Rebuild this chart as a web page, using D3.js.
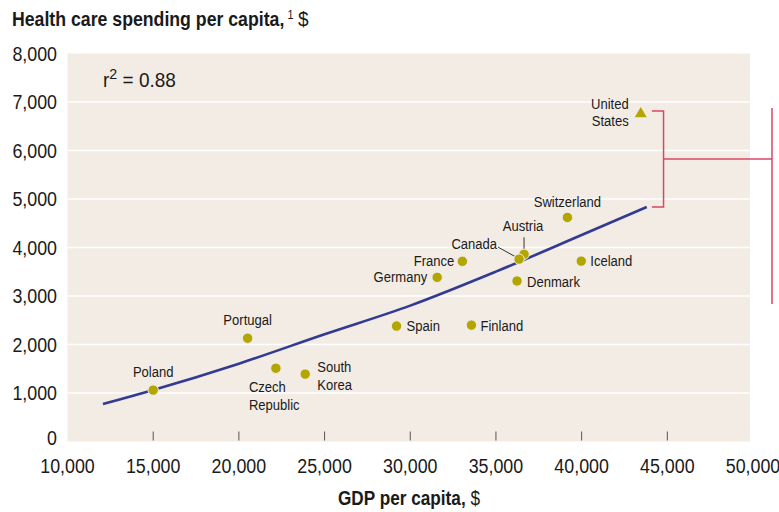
<!DOCTYPE html>
<html><head><meta charset="utf-8">
<script src="https://cdn.jsdelivr.net/npm/d3@7"></script>
<style>
body{margin:0;background:#fff}
text{font-family:"Liberation Sans",Arial,sans-serif;fill:#1a1a1a}
</style>
</head><body>
<svg id="c" width="779" height="512"></svg>
<script>
// ---- data ----
const countries = ["Poland","Portugal","Czech Republic","South Korea","Spain","Finland","Germany","France","Canada","Austria","Denmark","Switzerland","Iceland","United States"];
const gdpPerCapita = [15000,20510,22160,23870,29200,33570,31570,33040,36350,36640,36230,39170,39980,43450];
const healthPerCapita = [1060,2130,1510,1390,2380,2400,3385,3715,3760,3860,3310,4620,3720,6775];
const trendGdp = [12070,15000,20000,25000,30000,35000,40000,43800];
const trendHealth = [773,1062,1605,2211,2801,3502,4257,4835];
const xTicks = [10000,15000,20000,25000,30000,35000,40000,45000,50000];
const yTicks = [0,1000,2000,3000,4000,5000,6000,7000,8000];
const rSquared = "0.88";

// ---- label layout (offsets from point, px) ----
const labelLayout = {
  "Poland":        {anchor:"middle", dx:0,   dy:-13, lines:["Poland"]},
  "Portugal":      {anchor:"middle", dx:0,   dy:-13, lines:["Portugal"]},
  "Czech Republic":{anchor:"start",  dx:-27, dy:24,  lines:["Czech","Republic"]},
  "South Korea":   {anchor:"start",  dx:12,  dy:-2,  lines:["South","Korea"]},
  "Spain":         {anchor:"start",  dx:10,  dy:5,   lines:["Spain"]},
  "Finland":       {anchor:"start",  dx:9,   dy:6,   lines:["Finland"]},
  "Germany":       {anchor:"end",    dx:-10, dy:5,   lines:["Germany"]},
  "France":        {anchor:"end",    dx:-8,  dy:5,   lines:["France"]},
  "Canada":        {anchor:"end",    dx:-22, dy:-10, lines:["Canada"]},
  "Austria":       {anchor:"middle", dx:-1,  dy:-23, lines:["Austria"]},
  "Denmark":       {anchor:"start",  dx:10,  dy:6,   lines:["Denmark"]},
  "Switzerland":   {anchor:"middle", dx:0,   dy:-10, lines:["Switzerland"]},
  "Iceland":       {anchor:"start",  dx:9,   dy:5,   lines:["Iceland"]},
  "United States": {anchor:"end",    dx:-12, dy:-4,  lines:["United","States"]}
};

const svg = d3.select("#c");
const x = d3.scaleLinear().domain([10000,50000]).range([67.5,753]);
const y = d3.scaleLinear().domain([0,8000]).range([441.5,53.5]);
const bg = "#f2ece5";
const dotColor = "#b3a600";
const SX = 0.87; // horizontal condensing to mimic a condensed face

function addText(parent, px, py, size, anchor, sx) {
  return parent.append("text")
    .attr("transform", `translate(${px},${py}) scale(${sx||SX},1)`)
    .attr("text-anchor", anchor || "start")
    .style("font-size", size + "px");
}

// plot background
svg.append("rect").attr("x",x(10000)).attr("y",y(8000))
  .attr("width",750-x(10000)).attr("height",y(0)-y(8000)).attr("fill",bg);

// gridlines
svg.append("g").selectAll("line").data(yTicks.filter(d=>d>0&&d<8000)).join("line")
  .attr("x1",x(10000)).attr("x2",750).attr("y1",d=>y(d)).attr("y2",d=>y(d))
  .attr("stroke","#fff").attr("stroke-width",1.6);

// x ticks (inside, at bottom)
svg.append("g").selectAll("line").data(xTicks.slice(1,-1)).join("line")
  .attr("x1",d=>x(d)).attr("x2",d=>x(d)).attr("y1",y(0)-10).attr("y2",y(0)-1)
  .attr("stroke","#555").attr("stroke-width",1);

// axis labels
const fmt = d3.format(",");
const gx = svg.append("g");
xTicks.forEach(d=>addText(gx, x(d), 473, 20.5, "middle").text(fmt(d)));
const gy = svg.append("g");
yTicks.forEach(d=>addText(gy, 57, y(d) + (d===0?3:7), 20.5, "end").text(fmt(d)));

// titles
addText(svg, 12, 26, 20, "start", 0.885).style("font-weight","bold").text("Health care spending per capita,");
addText(svg, 287.5, 19, 12, "start", 0.9).text("1");
addText(svg, 298, 26, 20, "start", 0.95).text("$");

const t2 = addText(svg, 409, 505, 20, "middle", 0.86);
t2.append("tspan").style("font-weight","bold").text("GDP per capita,");
t2.append("tspan").text(" $");

// r squared
const r2 = addText(svg, 103, 87, 20, "start", 0.95);
r2.append("tspan").text("r");
r2.append("tspan").style("font-size","15px").attr("dy",-8).text("2");
r2.append("tspan").attr("dy",8).text(" = " + rSquared);

// trend line
const trend = trendGdp.map((g,i)=>[g,trendHealth[i]]);
svg.append("path").datum(trend)
  .attr("d",d3.line().x(d=>x(d[0])).y(d=>y(d[1])).curve(d3.curveMonotoneX))
  .attr("fill","none").attr("stroke","#323a92").attr("stroke-width",2.6);

// bracket (difference between US and trend end)
const usIdx = countries.indexOf("United States");
const bx0 = x(44100), bx1 = x(44780);
const yTop = y(healthPerCapita[usIdx]) - 2, yBot = y(trendHealth[trendHealth.length-1]);
const red = "#d94764";
const br = svg.append("g").attr("stroke",red).attr("stroke-width",1.5).attr("fill","none");
br.append("path").attr("d",`M${bx0},${yTop}H${bx1}V${yBot}H${bx0}`);
br.append("line").attr("x1",bx1).attr("x2",772).attr("y1",(yTop+yBot)/2).attr("y2",(yTop+yBot)/2);
br.append("line").attr("x1",772).attr("x2",772).attr("y1",108).attr("y2",304);

// leader lines
const ai = countries.indexOf("Austria"), ci = countries.indexOf("Canada");
svg.append("line").attr("x1",x(gdpPerCapita[ai])).attr("x2",x(gdpPerCapita[ai]))
  .attr("y1",y(healthPerCapita[ai])-17).attr("y2",y(healthPerCapita[ai])-4)
  .attr("stroke","#333").attr("stroke-width",1);
svg.append("line").attr("x1",x(gdpPerCapita[ci])-21).attr("x2",x(gdpPerCapita[ci])-3)
  .attr("y1",y(healthPerCapita[ci])-12).attr("y2",y(healthPerCapita[ci])-2)
  .attr("stroke","#333").attr("stroke-width",1);

// points
const pts = countries.map((c,i)=>({c, g:gdpPerCapita[i], h:healthPerCapita[i]}));
const sorted = pts.slice().sort((a,b)=>(b.c==="Austria"?1:0)-(a.c==="Austria"?1:0));
svg.append("g").selectAll("circle").data(sorted.filter(d=>d.c!=="United States")).join("circle")
  .attr("cx",d=>x(d.g)).attr("cy",d=>y(d.h)).attr("r",5.2)
  .attr("fill",dotColor).attr("stroke",bg).attr("stroke-width",1);
const us = pts[usIdx];
svg.append("path").attr("d",d3.symbol(d3.symbolTriangle,62)())
  .attr("transform",`translate(${x(us.g)},${y(us.h)+1})`).attr("fill",dotColor);

// labels
const lab = svg.append("g");
pts.forEach(p=>{
  const L = labelLayout[p.c];
  const t = addText(lab, x(p.g)+L.dx, y(p.h)+L.dy, 15, L.anchor);
  L.lines.forEach((ln,k)=>{
    t.append("tspan").attr("x",0).attr("dy",k===0?0:17.5).text(ln);
  });
});
</script>
</body></html>
